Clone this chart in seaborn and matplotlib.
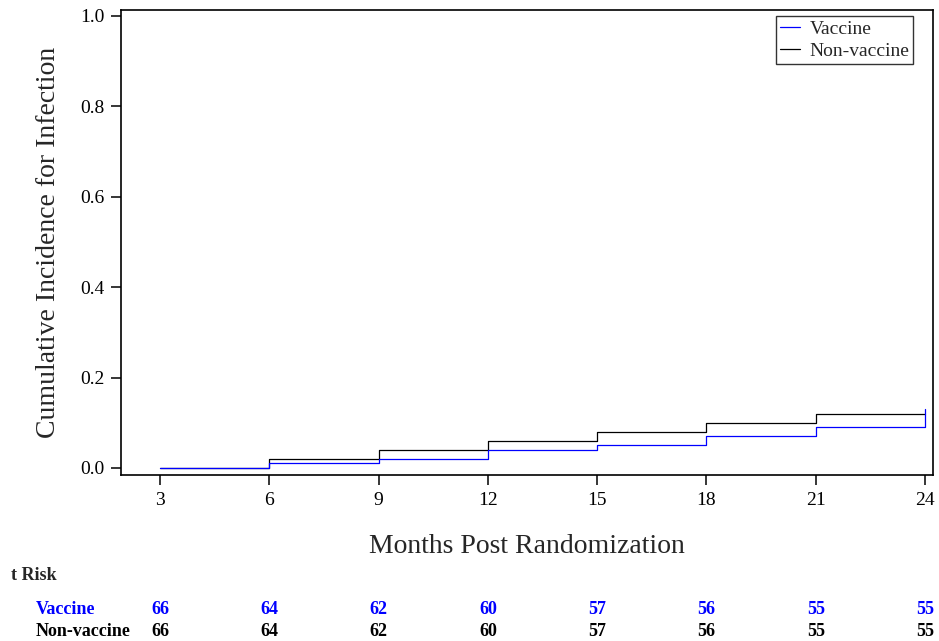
import numpy as np
import pandas as pd
import matplotlib
matplotlib.use("Agg")
import matplotlib.pyplot as plt
import matplotlib.transforms as mtransforms
from matplotlib.lines import Line2D
import seaborn as sns

# ---- data ----
groups = ["Vaccine", "Non-vaccine"]
vaccine_months = [3, 6, 9, 12, 15, 18, 21, 24]
vaccine_incidence = [0.00, 0.01, 0.02, 0.04, 0.05, 0.07, 0.09, 0.13]
nonvaccine_months = [3, 6, 9, 12, 15, 18, 21, 24]
nonvaccine_incidence = [0.00, 0.02, 0.04, 0.06, 0.08, 0.10, 0.12, 0.12]
risk_months = [3, 6, 9, 12, 15, 18, 21, 24]
vaccine_at_risk = [66, 64, 62, 60, 57, 56, 55, 55]
nonvaccine_at_risk = [66, 64, 62, 60, 57, 56, 55, 55]
x_ticks = [3, 6, 9, 12, 15, 18, 21, 24]
y_ticks = [0.0, 0.2, 0.4, 0.6, 0.8, 1.0]
colors = {"Vaccine": "#0000FF", "Non-vaccine": "#000000"}

df = pd.concat([
    pd.DataFrame({"month": vaccine_months, "inc": vaccine_incidence, "group": "Vaccine"}),
    pd.DataFrame({"month": nonvaccine_months, "inc": nonvaccine_incidence, "group": "Non-vaccine"}),
], ignore_index=True)

sns.set_style("white")
plt.rcParams["font.family"] = ["Liberation Serif", "DejaVu Serif"]

fig = plt.figure(figsize=(9.39, 6.41), dpi=100)
ax = fig.add_axes([121 / 939, 1 - 475 / 641, (933 - 121) / 939, (475 - 10) / 641])

for g in ["Non-vaccine", "Vaccine"]:
    sns.lineplot(data=df[df.group == g], x="month", y="inc", color=colors[g],
                 drawstyle="steps-post", estimator=None, linewidth=0.9,
                 ax=ax, legend=False)

ax.set_xlim(1.93, 24.22)
ax.set_ylim(-0.0155, 1.013)
ax.set_xticks(x_ticks)
ax.set_yticks(y_ticks)
ax.set_yticklabels([f"{v:.1f}" for v in y_ticks])
ax.tick_params(axis="both", direction="out", length=7, width=1.1, labelsize=14,
               bottom=True, left=True, colors="black", pad=5)
for s in ax.spines.values():
    s.set_visible(True)
    s.set_color("black")
    s.set_linewidth(1.2)

ax.set_xlabel("Months Post Randomization", fontsize=20, labelpad=18)
ax.set_ylabel("Cumulative Incidence for Infection", fontsize=20, labelpad=14)

handles = [Line2D([0], [0], color=colors[g], lw=0.9) for g in groups]
leg = ax.legend(handles, groups, loc="upper right", fontsize=14, frameon=True,
                fancybox=False, edgecolor="black", handlelength=1.0,
                handletextpad=0.5, borderpad=0.2, labelspacing=0.25,
                bbox_to_anchor=(0.9755, 0.987), borderaxespad=0)
leg.get_frame().set_linewidth(1.0)

# ---- at-risk table ----
fig.text(57 / 939, 1 - 576 / 641, "t Risk", ha="right", va="center",
         fontsize=13, fontweight="bold")
trans = mtransforms.blended_transform_factory(ax.transData, fig.transFigure)
rows = [("Vaccine", vaccine_at_risk, colors["Vaccine"], 609),
        ("Non-vaccine", nonvaccine_at_risk, colors["Non-vaccine"], 631)]
for name, vals, col, ypix in rows:
    yf = 1 - ypix / 641
    fig.text(36 / 939, yf, name, ha="left", va="center", fontsize=13,
             fontweight="bold", color=col)
    for m, v in zip(risk_months, vals):
        ax.text(m, yf, str(v), transform=trans, ha="center", va="center",
                fontsize=13, fontweight="bold", color=col, clip_on=False)

fig.savefig("out.png", dpi=100)
